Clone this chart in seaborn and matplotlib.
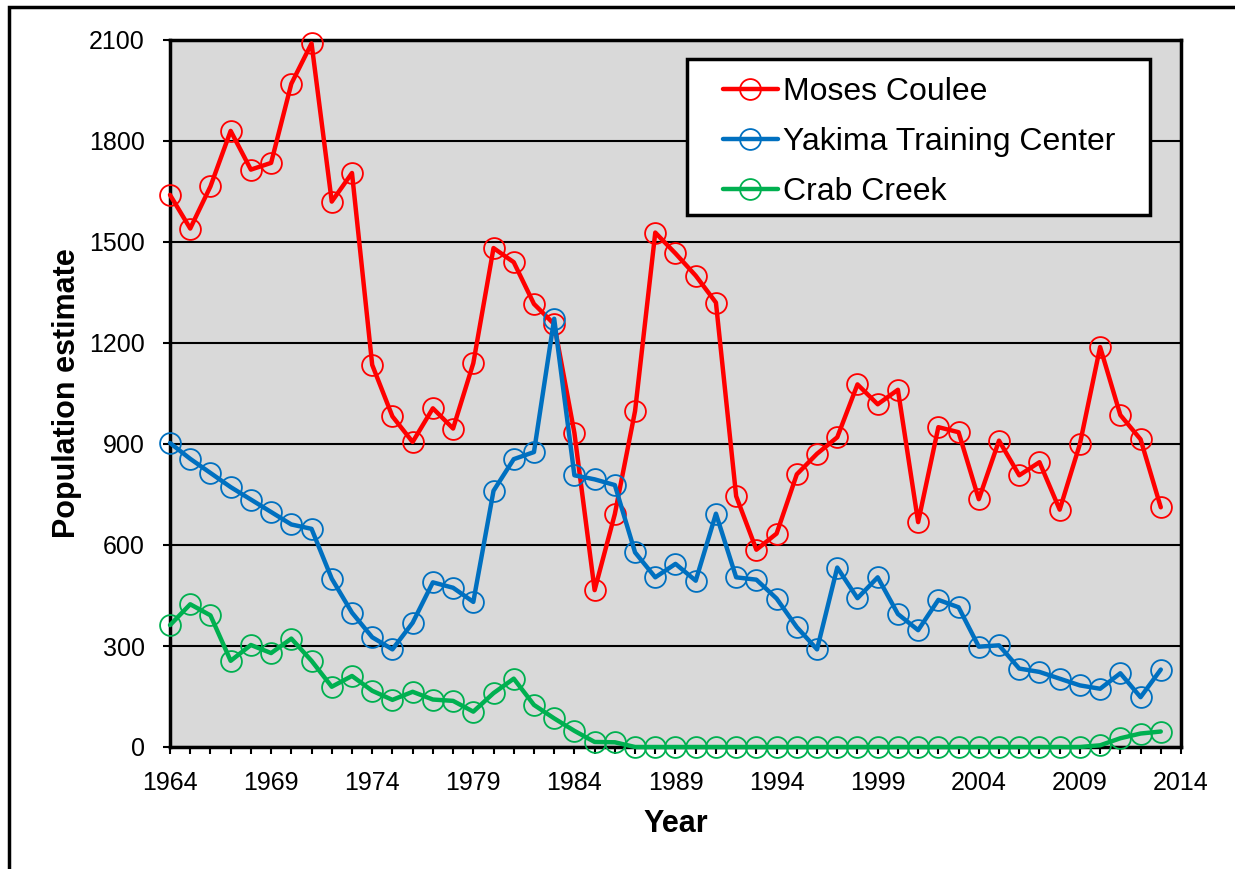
import matplotlib
matplotlib.use("Agg")
import matplotlib.pyplot as plt
import seaborn as sns
import pandas as pd
from matplotlib.patches import Rectangle

years = list(range(1964, 2014))

moses_coulee = [1640, 1540, 1665, 1830, 1715, 1735, 1970, 2090, 1620, 1705,
                1135, 982, 906, 1006, 946, 1140, 1482, 1440, 1316, 1256,
                933, 466, 692, 998, 1528, 1466, 1400, 1320, 745, 586,
                634, 810, 871, 920, 1077, 1018, 1061, 668, 950, 935,
                736, 910, 807, 846, 705, 900, 1188, 986, 914, 712]

yakima = [903, 856, 814, 772, 735, 698, 661, 648, 500, 399,
          326, 290, 369, 489, 473, 431, 761, 855, 876, 1272,
          807, 795, 778, 578, 504, 544, 494, 693, 504, 497,
          441, 356, 290, 533, 442, 504, 395, 347, 437, 415,
          298, 302, 233, 223, 203, 183, 173, 219, 148, 230]

crab_creek = [362, 424, 391, 256, 303, 279, 322, 256, 179, 211,
              167, 140, 164, 141, 137, 105, 160, 203, 125, 85,
              48, 15, 14, 0, 0, 0, 0, 0, 0, 0,
              0, 0, 0, 0, 0, 0, 0, 0, 0, 0,
              0, 0, 0, 0, 0, 0, 5, 26, 40, 46]

series_names = ["Moses Coulee", "Yakima Training Center", "Crab Creek"]
series_colors = ["#FF0000", "#0070C0", "#00B050"]
y_ticks = list(range(0, 2101, 300))
x_ticks = list(range(1964, 2015, 5))

sns.set_theme(style="white")
plt.rcParams["font.family"] = ["Liberation Sans", "DejaVu Sans"]
plt.rcParams.update({"text.color": "black", "axes.labelcolor": "black",
                     "xtick.color": "black", "ytick.color": "black"})

W, H = 1235, 869
fig = plt.figure(figsize=(W / 100, H / 100), dpi=100)
ax = fig.add_axes([170 / W, 1 - 747 / H, (1181 - 170) / W, (747 - 40) / H])
ax.set_facecolor("#D9D9D9")

df = pd.DataFrame({"Year": years, series_names[0]: moses_coulee,
                   series_names[1]: yakima, series_names[2]: crab_creek})
for name, col in zip(series_names, series_colors):
    sns.lineplot(data=df, x="Year", y=name, ax=ax, color=col, linewidth=3.2,
                 marker="o", markersize=15, markerfacecolor="none",
                 markeredgecolor=col, markeredgewidth=1.3, label=name,
                 zorder=3, clip_on=False)

ax.set_xlim(1964, 2014)
ax.set_ylim(0, 2100)
ax.set_yticks(y_ticks)
ax.set_yticklabels([str(v) for v in y_ticks])
ax.set_xticks(x_ticks)
ax.set_xticklabels([str(v) for v in x_ticks])
ax.set_xticks(years + [2014], minor=True)
ax.yaxis.grid(True, color="black", linewidth=1.5, zorder=1)
ax.set_axisbelow(True)
for s in ax.spines.values():
    s.set_visible(True)
    s.set_color("black")
    s.set_linewidth(2.5)

ax.tick_params(axis="y", which="major", direction="out", length=5, width=1.5,
               color="black", labelsize=18, pad=13, left=True)
ax.tick_params(axis="x", which="both", direction="out", length=5, width=1.5,
               color="black", bottom=True)
ax.tick_params(axis="x", which="major", labelsize=18, pad=12)

ax.set_xlabel("Year", fontsize=22, fontweight="bold", labelpad=10)
ax.set_ylabel("Population estimate", fontsize=22, fontweight="bold", labelpad=5)

# legend box
ax.add_patch(Rectangle((0.5114, 0.7525), 0.9693 - 0.5114, 0.9731 - 0.7525,
                       transform=ax.transAxes, facecolor="white",
                       edgecolor="black", linewidth=2.5, zorder=5))
leg = ax.legend(loc="upper left", bbox_to_anchor=(0.547, 0.948), borderaxespad=0,
                fontsize=23, frameon=False, handlelength=1.72,
                handletextpad=0.15, labelspacing=0.63, borderpad=0)
leg.set_zorder(6)

fig.patches.append(Rectangle((9 / W, -0.1), 1.2, 1 - 7 / H + 0.1,
                             transform=fig.transFigure, fill=False,
                             edgecolor="black", linewidth=2.5))

fig.savefig("out.png", dpi=100)
